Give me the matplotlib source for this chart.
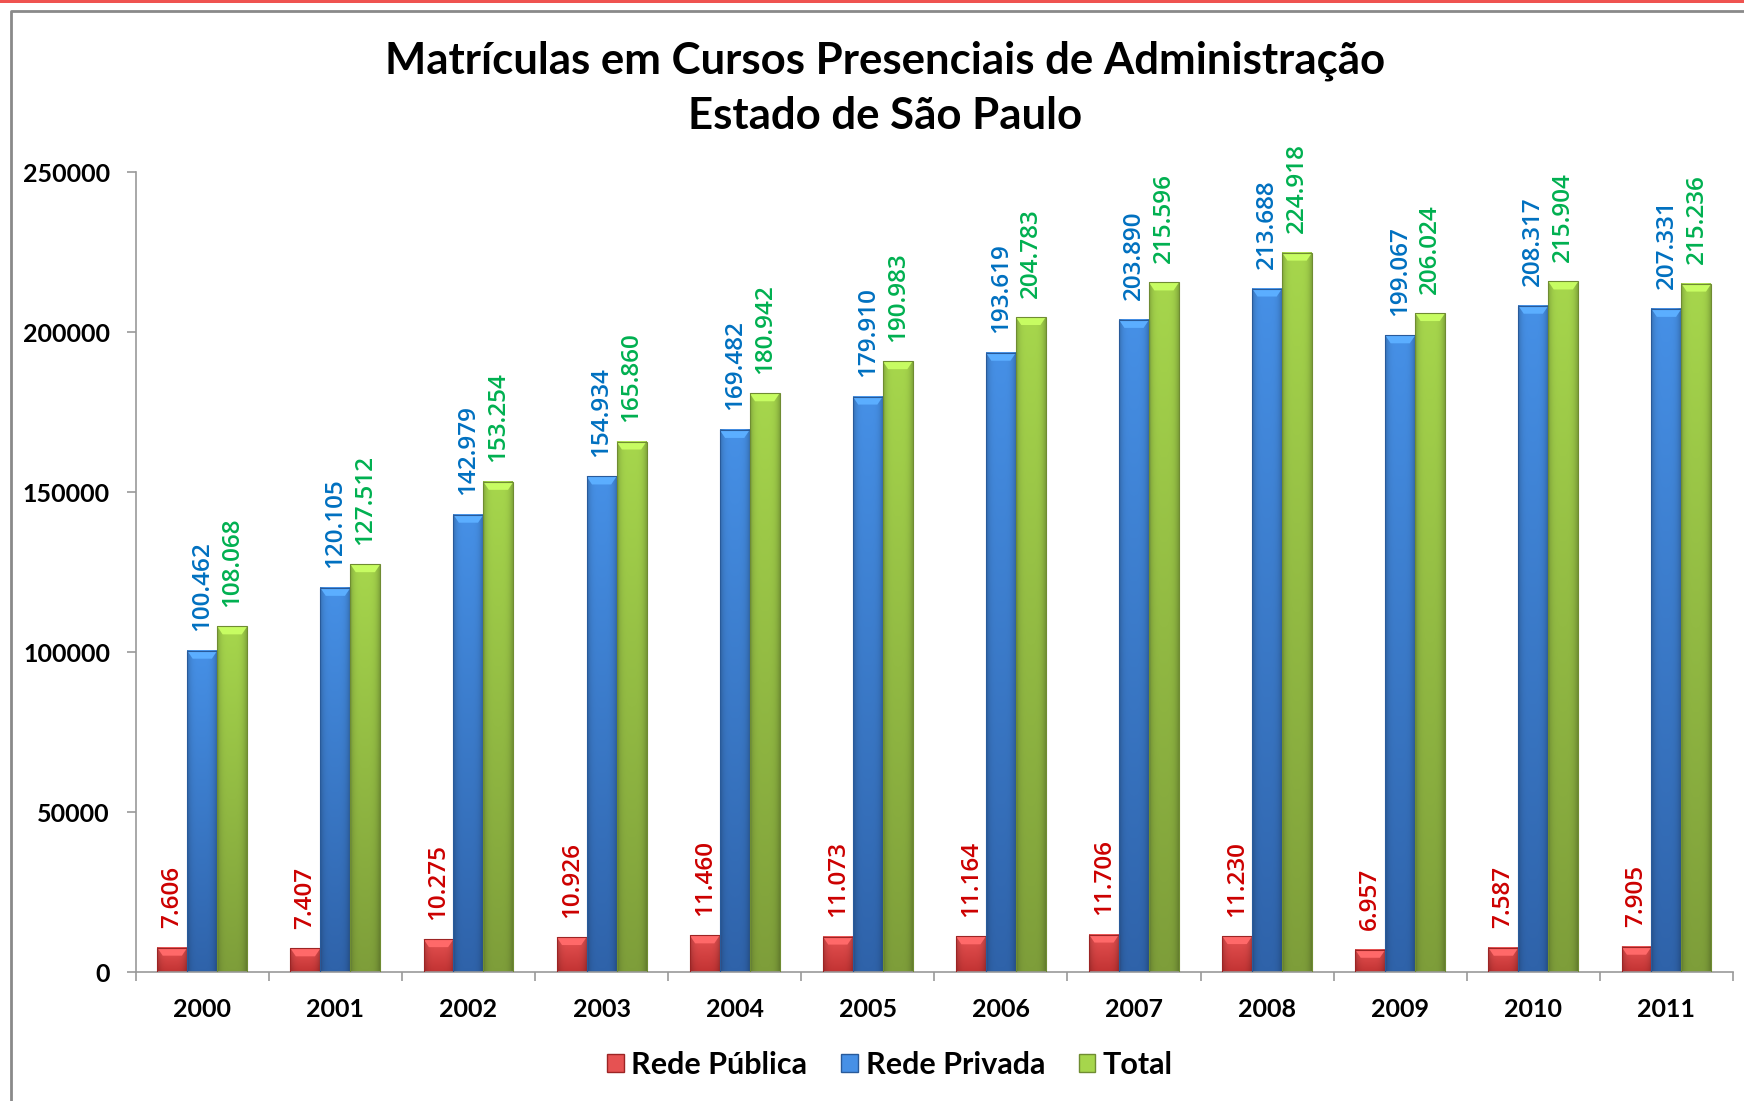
import numpy as np
import matplotlib
matplotlib.use('Agg')
import matplotlib.pyplot as plt
from matplotlib.colors import to_rgb
from matplotlib.patches import Polygon, Rectangle, Patch
from matplotlib.lines import Line2D

anos = ['2000', '2001', '2002', '2003', '2004', '2005',
        '2006', '2007', '2008', '2009', '2010', '2011']
rede_publica = [7606, 7407, 10275, 10926, 11460, 11073,
                11164, 11706, 11230, 6957, 7587, 7905]
rede_privada = [100462, 120105, 142979, 154934, 169482, 179910,
                193619, 203890, 213688, 199067, 208317, 207331]
total = [108068, 127512, 153254, 165860, 180942, 190983,
         204783, 215596, 224918, 206024, 215904, 215236]
nomes = ['Rede Pública', 'Rede Privada', 'Total']

# (topo, base, borda, texto)
cores = [('#e65252', '#c23333', '#9c2424', '#cc0000'),
         ('#4690e6', '#2f63aa', '#285a9a', '#0070c0'),
         ('#a6d64c', '#7e9e3a', '#6f8c32', '#00b050')]

W, H = 1744, 1101
fig = plt.figure(figsize=(W / 100, H / 100), dpi=100)
ax = fig.add_axes([135.7 / W, 1 - 972 / H, (1733 - 135.7) / W, (972 - 172.4) / H])

largura = 0.225
ymax = 250000
data_por_px = ymax / 799.6


def barra(x0, h, topo, base, borda):
    n = 64
    v = np.linspace(0, 1, n)[:, None, None]
    hfac = 1 - 0.2 * np.abs(np.linspace(-1, 1, 24)) ** 4
    t, b = np.array(to_rgb(topo)), np.array(to_rgb(base))
    img = (b + (t - b) * v) * hfac[None, :, None]
    img = np.clip(img, 0, 1)
    ax.imshow(img, extent=[x0, x0 + largura, 0, h], origin='lower',
              aspect='auto', interpolation='bilinear', zorder=2)
    # tampa chanfrada
    d = min(8 * data_por_px, h * 0.5)
    ins = largura * 0.18
    cap = np.clip(t * 1.12 + 0.05, 0, 1)
    ax.add_patch(Polygon([(x0, h), (x0 + largura, h), (x0 + largura - ins, h - d),
                          (x0 + ins, h - d)], closed=True, facecolor=cap,
                         edgecolor='none', zorder=3))
    ax.add_patch(Rectangle((x0, 0), largura, h, fill=False, edgecolor=borda,
                           linewidth=0.8, zorder=4))


x = np.arange(len(anos))
for k, valores in enumerate([rede_publica, rede_privada, total]):
    topo, base, borda, texto = cores[k]
    for i, v in enumerate(valores):
        xc = x[i] + (k - 1) * largura
        barra(xc - largura / 2, v, topo, base, borda)
        rotulo = f'{v:,}'.replace(',', '.')
        ax.annotate(rotulo, (xc, v), xytext=(0, 14), textcoords='offset points',
                    rotation=90, ha='center', va='bottom', color=texto,
                    fontsize=17.5, family='Open Sans', fontweight='semibold')

ax.set_xlim(-0.5, len(anos) - 0.5)
ax.set_ylim(0, ymax)
ax.set_yticks(np.arange(0, 250001, 50000))
ax.set_yticklabels([str(t) for t in range(0, 250001, 50000)],
                   fontsize=18, fontweight='bold', family='Lato')
ax.set_xticks(x)
ax.set_xticklabels(anos, fontsize=18, fontweight='bold', family='Lato')
ax.set_xticks(np.arange(-0.5, len(anos), 1), minor=True)
ax.tick_params(axis='x', which='major', length=0, pad=19)
ax.tick_params(axis='x', which='minor', length=6.5, color='#999999', width=1.2)
ax.tick_params(axis='y', length=6.5, color='#999999', width=1.2, pad=12)
for s in ['top', 'right']:
    ax.spines[s].set_visible(False)
for s in ['left', 'bottom']:
    ax.spines[s].set_color('#999999')
    ax.spines[s].set_linewidth(1.2)

fig.text(885 / W, 1 - 73.5 / H, 'Matrículas em Cursos Presenciais de Administração',
         ha='center', va='baseline', fontsize=31.5, fontweight='bold', family='Lato')
fig.text(885 / W, 1 - 129 / H, 'Estado de São Paulo',
         ha='center', va='baseline', fontsize=31.5, fontweight='bold', family='Lato')

handles = [Patch(facecolor=c[0], edgecolor=c[2]) for c in cores]
fig.legend(handles, nomes, loc='center', bbox_to_anchor=(890 / W, 1 - 1065 / H),
           ncol=3, frameon=False, handlelength=0.55, handleheight=0.55,
           handletextpad=0.25, columnspacing=1.1,
           prop={'family': 'Lato', 'weight': 'bold', 'size': 22})

# moldura
fig.add_artist(Line2D([11 / W, 11 / W, 1], [0, 1 - 11 / H, 1 - 11 / H],
                      transform=fig.transFigure, color='#8a8a8a', linewidth=2))
fig.add_artist(Rectangle((0, 1 - 3 / H), 1, 3 / H, transform=fig.transFigure,
                         facecolor='#ef5350', edgecolor='none'))

fig.savefig('out.png', dpi=100)
